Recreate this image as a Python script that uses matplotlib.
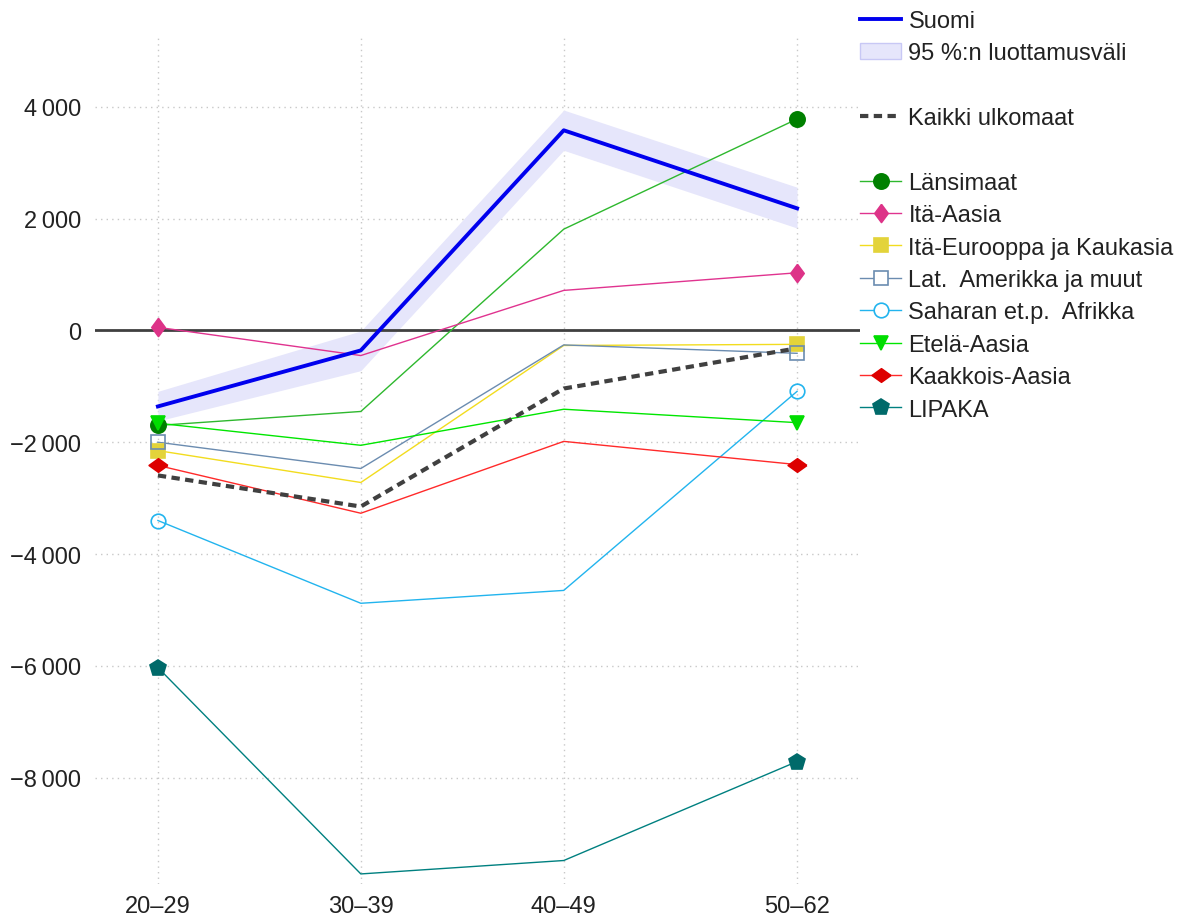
import numpy as np
import matplotlib
matplotlib.use("Agg")
from matplotlib import pyplot as plt
from matplotlib.lines import Line2D
from matplotlib.patches import Patch
from matplotlib.ticker import FuncFormatter

plt.rcParams['font.family'] = ['Liberation Sans', 'DejaVu Sans']

ages = ['20–29', '30–39', '40–49', '50–62']
age_mid = [24.5, 34.5, 44.5, 56.0]

suomi = [-1360, -358, 3578, 2182]
suomi_lo = [-1620, -720, 3220, 1830]
suomi_hi = [-1090, -10, 3940, 2560]
kaikki = [-2594, -3150, -1040, -320]

groups = ['Länsimaat', 'Itä-Aasia', 'Itä-Eurooppa ja Kaukasia', 'Lat.  Amerikka ja muut',
          'Saharan et.p.  Afrikka', 'Etelä-Aasia', 'Kaakkois-Aasia', 'LIPAKA']
values = [
    [-1700, -1450, 1810, 3780],
    [55, -450, 715, 1030],
    [-2150, -2720, -270, -250],
    [-2000, -2470, -260, -410],
    [-3400, -4880, -4650, -1090],
    [-1660, -2055, -1410, -1650],
    [-2415, -3270, -1985, -2400],
    [-6030, -9720, -9480, -7710],
]

# markers: tall diamond for Itä-Aasia, wide diamond for Kaakkois-Aasia
tall_d = [(0, 1), (0.74, 0), (0, -1), (-0.74, 0), (0, 1)]
wide_d = [(1, 0), (0, 0.72), (-1, 0), (0, -0.72), (1, 0)]

line_colors = ['#2eb82e', '#e0338f', '#f2dc1e', '#6b8cb0', '#22b4ee', '#00e600', '#ff2a2a', '#008080']
marker_colors = ['#008000', '#dd3388', '#e3d33a', '#6b8cb0', '#22b4ee', '#00dd00', '#dd0000', '#006a6a']
markers = ['o', tall_d, 's', 's', 'o', 'v', wide_d, 'p']
filled = [True, True, True, False, False, True, True, True]
msizes = [11, 13, 9.6, 9.6, 10.5, 10.3, 13.5, 12]

fig = plt.figure(figsize=(11.91, 9.2), dpi=100)
ax = fig.add_axes([95 / 1191, 35 / 920, 765 / 1191, 850 / 920])

ax.fill_between(age_mid, suomi_lo, suomi_hi, color='#e6e6fb', lw=0, zorder=1)
ax.axhline(0, color='#404040', lw=2, zorder=2)

handles = []
for vals, lc, mc, m, f, ms in zip(values, line_colors, marker_colors, markers, filled, msizes):
    ax.plot(age_mid, vals, color=lc, lw=1, zorder=3)
    ends = [0, 3]
    ax.plot([age_mid[i] for i in ends], [vals[i] for i in ends], ls='none', marker=m,
            ms=ms, mfc=mc if f else 'none', mec=mc, mew=1.2, zorder=5)
    handles.append(Line2D([], [], color=lc, lw=1, marker=m, ms=ms,
                          mfc=mc if f else 'white', mec=mc, mew=1.2))

ax.plot(age_mid, kaikki, color='#404040', lw=3, ls=(0, (2, 1.3)), zorder=4)
ax.plot(age_mid, suomi, color='#0000ee', lw=2.8, zorder=6)

ax.set_xlim(21.4, 59.1)
ax.set_ylim(-9900, 5300)
ax.set_xticks(age_mid)
ax.set_xticklabels(ages)
ax.set_yticks([-8000, -6000, -4000, -2000, 0, 2000, 4000])


def fmt(v, pos):
    s = f"{abs(int(v)):,}".replace(',', '\u2009')
    return ('\u2212' if v < 0 else '') + s


ax.yaxis.set_major_formatter(FuncFormatter(fmt))
ax.tick_params(length=0, labelsize=17, colors='#222222')
ax.tick_params(axis='y', pad=10)
ax.tick_params(axis='x', pad=8)
for sp in ax.spines.values():
    sp.set_visible(False)
ax.grid(True, ls=(0, (1, 3)), color='#c8c8c8', lw=1)
ax.set_axisbelow(True)

blank = Line2D([], [], ls='none')
leg_handles = [Line2D([], [], color='#0000ee', lw=2.8),
               Patch(facecolor='#e6e6fb', edgecolor='#c8c8f5'),
               blank,
               Line2D([], [], color='#404040', lw=3, ls=(0, (2, 1.3))),
               blank] + handles
leg_labels = ['Suomi', '95 %:n luottamusväli', '', 'Kaikki ulkomaat', ''] + groups
fig.legend(leg_handles, leg_labels, loc='upper left', bbox_to_anchor=(860 / 1191, 1 - 11 / 920),
           frameon=False, fontsize=17, handlelength=1.75, handletextpad=0.3,
           labelspacing=0.44, borderaxespad=0, borderpad=0, numpoints=1, labelcolor='#222222')

fig.savefig('out.png', dpi=100)
